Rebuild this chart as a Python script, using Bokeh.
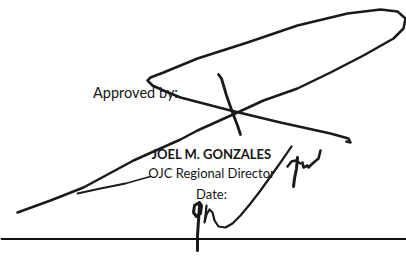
from bokeh.plotting import figure
from bokeh.models import Range1d
from bokeh.core.properties import value
from bokeh.embed import file_html
from bokeh.resources import INLINE

# Signature strokes (image pixel coordinates)
loop_x = [17, 50, 83, 133, 180, 197, 237, 263, 297, 330, 363, 393, 403, 405, 397, 380, 347, 297, 247, 197, 163, 150, 147, 152, 163, 180, 230, 280, 330, 348, 350, 346]
loop_y = [212, 200, 187, 160, 139, 130, 112, 100, 88, 72, 55, 38, 28, 18, 11, 9, 13, 25, 42, 58, 72, 77, 80, 85, 90, 97, 110, 122, 133, 138, 142, 141]
tail_x = [150, 125, 100, 77]
tail_y = [176, 183, 188, 193]
cross_x = [218, 221, 226, 232, 237, 240]
cross_y = [74, 78, 95, 112, 125, 134]
g_x = [199, 194, 193, 196, 200, 201, 199, 199, 198, 197, 197]
g_y = [202, 205, 212, 216, 213, 205, 202, 206, 220, 235, 250]
h_x = [206, 205, 204, 206, 209, 212, 214, 218, 225, 232, 240, 250, 260, 270, 280, 291]
h_y = [205, 215, 222, 214, 209, 212, 220, 226, 227, 223, 215, 203, 190, 176, 162, 146]
j_x = [297, 296, 294, 293]
j_y = [157, 168, 178, 186]
x_x = [287, 291, 295, 300]
x_y = [166, 161, 160, 163]
w_x = [302, 303, 307, 308, 312, 318, 320]
w_y = [162, 167, 165, 167, 163, 158, 150]
rule_x = [0, 406]
rule_y = [238.5, 238.5]

# Texts
labels = ["Approved by:", "JOEL M. GONZALES", "OJC Regional Director", "Date:"]
label_x = [135, 211, 211, 211]
label_y = [92, 153, 172, 193]
label_style = ["normal", "bold", "normal", "normal"]
label_size = ["14.5px", "13px", "13px", "13px"]

p = figure(width=406, height=256, x_range=Range1d(0, 406), y_range=Range1d(256, 0),
           output_backend="svg", toolbar_location=None, min_border=0)
p.axis.visible = False
p.grid.visible = False
p.outline_line_color = None
p.background_fill_color = "white"
p.border_fill_color = "white"

for t, x, y, st, sz in zip(labels, label_x, label_y, label_style, label_size):
    p.text(x=[x], y=[y], text=[t], text_font=value("Lato"), text_font_size=sz,
           text_font_style=st, text_color="#151515", text_align="center",
           text_baseline="alphabetic")

ink = "#1a1a1a"
for xs, ys, w in [(loop_x, loop_y, 2.5), (tail_x, tail_y, 1.8), (cross_x, cross_y, 2.8),
                  (g_x, g_y, 3.0), (h_x, h_y, 2.2), (j_x, j_y, 3.0), (x_x, x_y, 2.5),
                  (w_x, w_y, 2.6)]:
    p.line(xs, ys, line_color=ink, line_width=w, line_join="round", line_cap="round")

p.line(rule_x, rule_y, line_color="#111111", line_width=2)

open("out.html", "w").write(file_html(p, INLINE))
